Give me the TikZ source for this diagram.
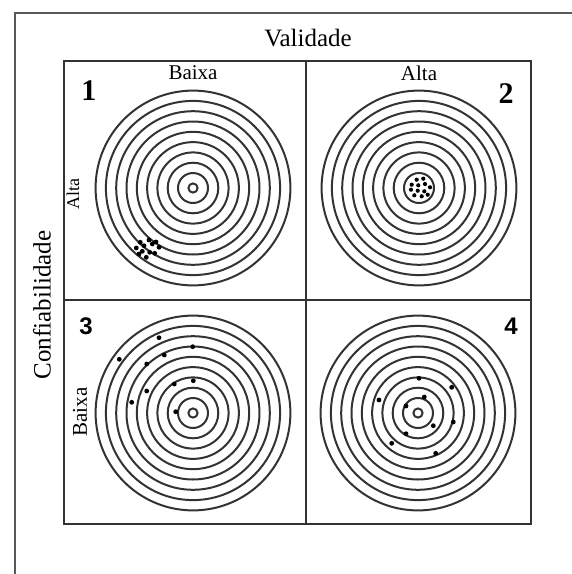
\documentclass[tikz,border=0pt]{standalone}
\usepackage{fontspec}
\setmainfont{Liberation Serif}
\newfontfamily\digitfont{Liberation Sans}

\tikzset{
  frameline/.style={black!65, line width=1pt},
  gridline/.style={black!80, line width=1pt},
  ring/.style={black!80, line width=1pt},
  shot/.style={fill=black},
  axislabel/.style={font=\fontsize{12.5}{13}\selectfont, inner sep=0pt},
  levellabel/.style={font=\fontsize{10.5}{11}\selectfont, inner sep=0pt},
  cellnum/.style={font=\fontsize{15}{15}\selectfont\bfseries, inner sep=0pt},
  cellnumsans/.style={font=\digitfont\fontsize{12}{12}\selectfont\bfseries, inner sep=0pt}
}

\begin{document}
\begin{tikzpicture}[x=0.5pt,y=-0.5pt]
  \useasboundingbox (0,0) rectangle (572,574);
  % outer frame (open at right and bottom)
  \coordinate (fr) at (572,13);
  \coordinate (ftl) at (15,13);
  \coordinate (fb) at (15,574);
  \draw[frameline] (fr) -- (ftl) -- (fb);

  % grid of the four cells
  \coordinate (gtl) at (64,61);
  \coordinate (gbr) at (531,524);
  \coordinate (gmt) at (306,61);
  \coordinate (gmb) at (306,524);
  \coordinate (gml) at (64,300);
  \coordinate (gmr) at (531,300);
  \draw[gridline] (gtl) rectangle (gbr);
  \draw[gridline] (gmt) -- (gmb);
  \draw[gridline] (gml) -- (gmr);

  % labels
  \node[axislabel, anchor=base] (val) at (308,46) {Validade};
  \node[axislabel, rotate=90] (conf) at (42,305) {Confiabilidade};
  \node[levellabel, anchor=base] (vlow) at (193,79) {Baixa};
  \node[levellabel, anchor=base] (vhigh) at (419,80) {Alta};
  \node[levellabel, rotate=90, font=\fontsize{9}{9}\selectfont] (chigh) at (73,194) {Alta};
  \node[levellabel, rotate=90] (clow) at (80,412) {Baixa};
  \node[cellnum, anchor=base] (n1) at (89,100) {1};
  \node[cellnum, anchor=base] (n2) at (506,103) {2};
  \node[cellnumsans, anchor=base] (n3) at (86,334) {3};
  \node[cellnumsans, anchor=base] (n4) at (511,334) {4};

  % targets
  \coordinate (t1) at (193,188);
  \coordinate (t2) at (419,188);
  \coordinate (t3) at (193,413);
  \coordinate (t4) at (418,413);
  \foreach \t in {t1,t2,t3,t4}{
    \draw[ring] (\t) circle[radius=2.3pt];
    \foreach \k in {0,...,8}
      \draw[ring] (\t) circle[radius={7.5pt+5.15pt*\k}];
  }

  % shots: 1 grouped, off centre
  \foreach \dx/\dy in {-6.7/-5.7, 2/-8, -10.7/0, -3/-2.3, 5.3/-4, 12/-0.7,
                       -4.7/3.3, 2.7/4.3, 7.7/5.3, -0.7/9.3, -8/6, 9/-6}
    \fill[shot] (147+\dx,248+\dy) circle[radius=1.2pt];

  % shots: 2 grouped, centred
  \fill[white] (t2) circle[radius=6pt];
  \foreach \dx/\dy in {-2.3/-8.3, 4.3/-9.3, -7.3/-3.3, -0.7/-2.7, 6/-4, 11/-0.7,
                       -8/1.7, -1.3/2.7, 5.3/3.3, -4.7/7.3, 2.7/8.3, 8.7/6.7}
    \fill[shot] ([shift={(\dx,\dy)}]t2) circle[radius=1.05pt];

  % shots: 3 scattered, off centre
  \foreach \px/\py in {119.3/359.3, 159/337.7, 192.7/346.7, 164.3/355, 146.7/364,
                       193.3/380.7, 174.3/384, 146.7/391, 131.7/402.3, 175.7/411.7}
    \fill[shot] (\px,\py) circle[radius=1.2pt];

  % shots: 4 scattered round the centre
  \foreach \px/\py in {419/378.3, 451.7/387.3, 379/400, 424.3/397, 406/406,
                       453.3/422, 433.3/425.7, 406/433.7, 391.7/443.3, 435.7/453.3}
    \fill[shot] (\px,\py) circle[radius=1.2pt];
\end{tikzpicture}
\end{document}
